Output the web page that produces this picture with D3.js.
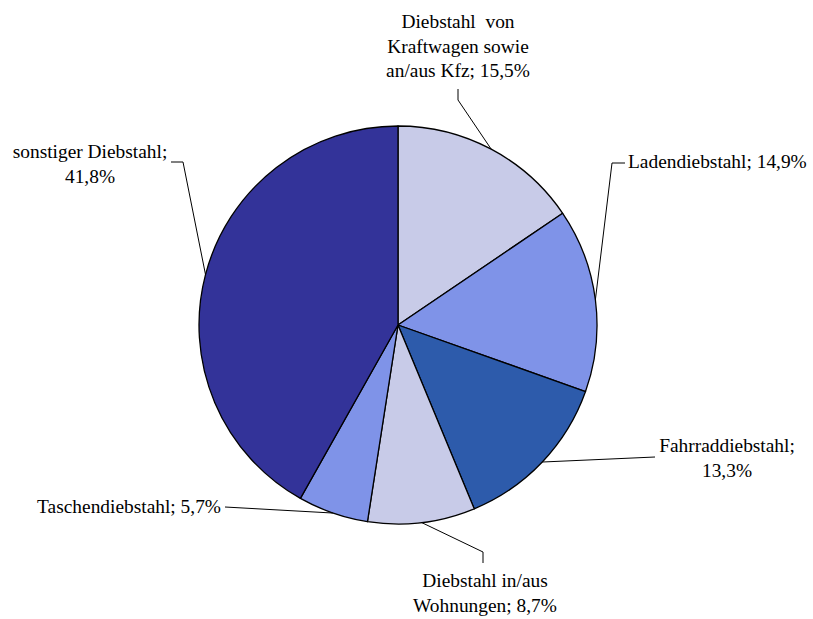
<!DOCTYPE html>
<html>
<head>
<meta charset="utf-8">
<script src="https://cdn.jsdelivr.net/npm/d3@7"></script>
<style>
  body { margin: 0; background: #fff; }
  svg text { font-family: "Liberation Serif", "Times New Roman", serif; font-size: 19.4px; fill: #000; }
</style>
</head>
<body>
<script>
// slices, clockwise from 12 o'clock
var categories = [
  "Diebstahl von Kraftwagen sowie an/aus Kfz",
  "Ladendiebstahl",
  "Fahrraddiebstahl",
  "Diebstahl in/aus Wohnungen",
  "Taschendiebstahl",
  "sonstiger Diebstahl"
];
var values = [15.5, 14.9, 13.3, 8.7, 5.7, 41.8];
var labelLines = [
  ["Diebstahl  von", "Kraftwagen sowie", "an/aus Kfz; 15,5%"],
  ["Ladendiebstahl; 14,9%"],
  ["Fahrraddiebstahl;", "13,3%"],
  ["Diebstahl in/aus", "Wohnungen; 8,7%"],
  ["Taschendiebstahl; 5,7%"],
  ["sonstiger Diebstahl;", "41,8%"]
];

var colors = ["#c8cbe8", "#7f93e8", "#2d5bab", "#c8cbe8", "#7f93e8", "#333399"];

var width = 813, height = 619,
    cx = 398, cy = 325, radius = 199,
    lineHeight = 24.6;

// where each label sits, and the bend of its leader line
var layout = [
  {x: 458, y: 28,  anchor: "middle", bend: [[458, 89], [458, 100]]},
  {x: 628, y: 168, anchor: "start",  bend: [[625, 163], [612, 163]]},
  {x: 727, y: 452, anchor: "middle", bend: [[655, 457]]},
  {x: 485, y: 587, anchor: "middle", bend: [[483, 563], [483, 552]]},
  {x: 221, y: 513, anchor: "end",    bend: [[225, 507]]},
  {x: 90,  y: 158, anchor: "middle", bend: [[171, 162], [183, 162]]}
];

var svg = d3.select("body").append("svg")
    .attr("width", width)
    .attr("height", height);

var pie = d3.pie().sort(null).value(function(d) { return d; });
var arcs = pie(values);

var arc = d3.arc().innerRadius(0).outerRadius(radius);
var edge = d3.arc().innerRadius(radius).outerRadius(radius);

var g = svg.append("g")
    .attr("transform", "translate(" + cx + "," + cy + ")");

g.selectAll("path.slice")
    .data(arcs)
  .enter().append("path")
    .attr("class", "slice")
    .attr("d", arc)
    .attr("fill", function(d, i) { return colors[i]; })
    .attr("stroke", "#000")
    .attr("stroke-width", 1.3)
    .attr("stroke-linejoin", "round");

// leader lines: from the label bend to the middle of the slice's arc
var line = d3.line();
svg.selectAll("path.leader")
    .data(arcs)
  .enter().append("path")
    .attr("class", "leader")
    .attr("d", function(d, i) {
      var c = edge.centroid(d);
      var pts = layout[i].bend.slice();
      pts.push([cx + c[0], cy + c[1]]);
      return line(pts);
    })
    .attr("fill", "none")
    .attr("stroke", "#000")
    .attr("stroke-width", 1);

var labels = svg.selectAll("text.label")
    .data(categories)
  .enter().append("text")
    .attr("class", "label")
    .attr("text-anchor", function(d, i) { return layout[i].anchor; })
    .attr("x", function(d, i) { return layout[i].x; })
    .attr("y", function(d, i) { return layout[i].y; });

labels.each(function(d, i) {
  d3.select(this).selectAll("tspan")
      .data(labelLines[i])
    .enter().append("tspan")
      .attr("x", layout[i].x)
      .attr("dy", function(t, j) { return j === 0 ? 0 : lineHeight; })
      .style("white-space", "pre")
      .text(function(t) { return t; });
});
</script>
</body>
</html>
